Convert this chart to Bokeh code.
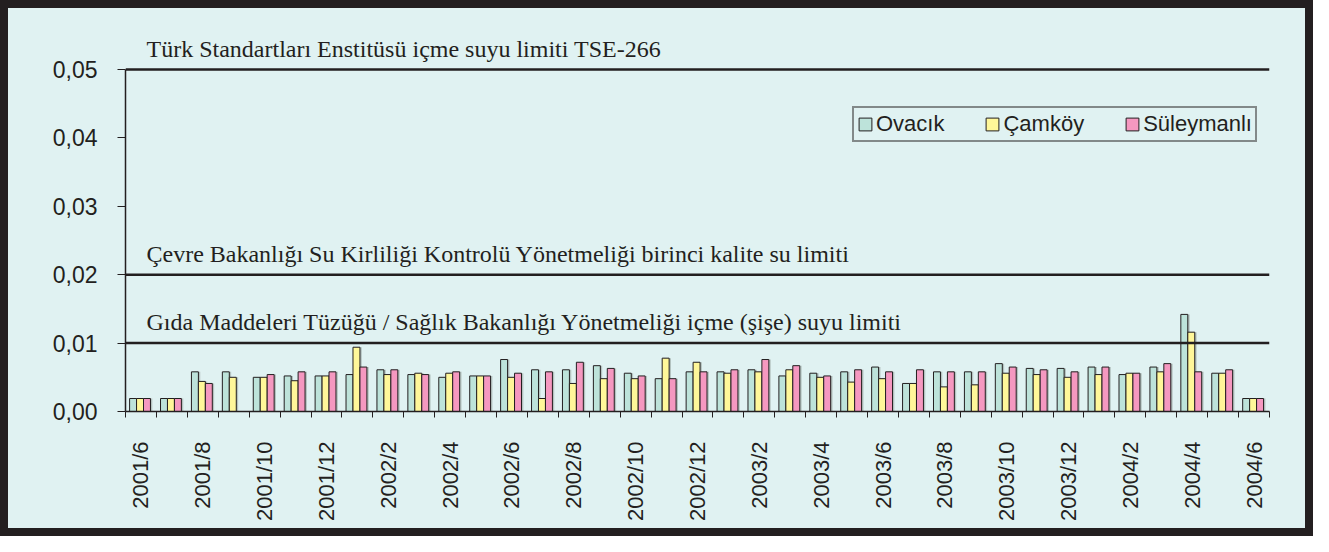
import numpy as np
from bokeh.plotting import figure
from bokeh.models import (Range1d, FixedTicker, CustomJSTickFormatter, Span,
                          Legend, LegendItem)
from bokeh.core.properties import value
from bokeh.embed import file_html
from bokeh.resources import INLINE

nan = float("nan")

months = ["2001/6", "2001/7", "2001/8", "2001/9", "2001/10", "2001/11", "2001/12",
          "2002/1", "2002/2", "2002/3", "2002/4", "2002/5", "2002/6", "2002/7",
          "2002/8", "2002/9", "2002/10", "2002/11", "2002/12",
          "2003/1", "2003/2", "2003/3", "2003/4", "2003/5", "2003/6", "2003/7",
          "2003/8", "2003/9", "2003/10", "2003/11", "2003/12",
          "2004/1", "2004/2", "2004/3", "2004/4", "2004/5", "2004/6"]

ovacik = [0.0019, 0.0019, 0.0058, 0.0058, 0.0050, 0.0052, 0.0052, 0.0054, 0.0061,
          0.0054, 0.0050, 0.0052, 0.0076, 0.0061, 0.0061, 0.0067, 0.0056, 0.0048,
          0.0058, 0.0058, 0.0061, 0.0052, 0.0056, 0.0058, 0.0065, 0.0041, 0.0058,
          0.0058, 0.0070, 0.0063, 0.0063, 0.0065, 0.0054, 0.0065, 0.0142, 0.0056,
          0.0019]
camkoy = [0.0019, 0.0019, 0.0044, 0.0050, 0.0050, 0.0045, 0.0052, 0.0094, 0.0054,
          0.0056, 0.0056, 0.0052, 0.0050, 0.0019, 0.0041, 0.0048, 0.0048, 0.0078,
          0.0072, 0.0056, 0.0058, 0.0061, 0.0050, 0.0043, 0.0048, 0.0041, 0.0036,
          0.0039, 0.0056, 0.0054, 0.0050, 0.0054, 0.0056, 0.0058, 0.0116, 0.0056,
          0.0019]
suleymanli = [0.0019, 0.0019, 0.0041, nan, 0.0054, 0.0058, 0.0058, 0.0065, 0.0061,
              0.0054, 0.0058, 0.0052, 0.0056, 0.0058, 0.0072, 0.0063, 0.0052, 0.0048,
              0.0058, 0.0061, 0.0076, 0.0067, 0.0052, 0.0061, 0.0058, 0.0061, 0.0058,
              0.0058, 0.0065, 0.0061, 0.0058, 0.0065, 0.0056, 0.0070, 0.0058, 0.0061,
              0.0019]

series_names = ["Ovacık", "Çamköy", "Süleymanlı"]
series_values = [ovacik, camkoy, suleymanli]
series_colors = ["#BDE3DA", "#FFF799", "#F598C0"]

y_ticks = [0.0, 0.01, 0.02, 0.03, 0.04, 0.05]
limits = [0.05, 0.02, 0.01]
limit_labels = ["Türk Standartları Enstitüsü içme suyu limiti TSE-266",
                "Çevre Bakanlığı Su Kirliliği Kontrolü Yönetmeliği birinci kalite su limiti",
                "Gıda Maddeleri Tüzüğü / Sağlık Bakanlığı Yönetmeliği içme (şişe) suyu limiti"]

DARK = "#231F20"
BG = "#E0F2F2"
W, H = 1313, 536

n = len(months)
centers = np.arange(n) + 0.5

p = figure(width=W, height=H, output_backend="svg", toolbar_location=None,
           x_range=Range1d(0, n), y_range=Range1d(0, 0.0563))
p.min_border_left = 125
p.min_border_right = 44
p.min_border_top = 26
p.min_border_bottom = 125
p.background_fill_color = BG
p.border_fill_color = BG
p.border_fill_alpha = 0
p.outline_line_color = None
p.grid.visible = False
# picture frame: light background with a dark 8px border drawn on the host element
p.styles = {"background-color": BG, "box-shadow": "inset 0 0 0 8px " + DARK}

# limit lines
for lim in limits:
    p.add_layout(Span(location=lim, dimension="width", line_color=DARK, line_width=2.5))

# bars
bw = 0.225
renderers = []
for i, (vals, color) in enumerate(zip(series_values, series_colors)):
    off = (i - 1) * bw - 0.03
    p.vbar(x=centers + off + 0.06, top=vals, width=bw,
           fill_color="#8A9590", fill_alpha=0.5, line_color=None)
    r = p.vbar(x=centers + off, top=vals, width=bw,
               fill_color=color, line_color=DARK, line_width=1)
    renderers.append(r)

# limit texts
p.text(x=[0] * len(limits), y=limits, text=limit_labels, x_offset=21, y_offset=-21,
       text_font=value("Liberation Serif"), text_font_size="24px", text_color=DARK,
       text_baseline="alphabetic", text_align="left")

# axes
xa = p.xaxis[0]
xa.ticker = FixedTicker(ticks=list(centers[::2]), minor_ticks=list(np.arange(n + 1)))
xa.major_label_overrides = {float(c): m for c, m in zip(centers[::2], months[::2])}
xa.major_label_orientation = np.pi / 2
xa.major_tick_out = 0
xa.major_tick_in = 0
xa.minor_tick_out = 6
xa.minor_tick_in = 0
xa.minor_tick_line_color = DARK
xa.axis_line_color = DARK
xa.axis_line_width = 1.5
xa.major_label_standoff = 24
xa.major_label_text_font = "Liberation Sans"
xa.major_label_text_font_size = "22px"
xa.major_label_text_color = DARK

ya = p.yaxis[0]
ya.ticker = FixedTicker(ticks=y_ticks)
ya.bounds = (0, 0.05)
ya.formatter = CustomJSTickFormatter(code="return tick.toFixed(2).replace('.', ',');")
ya.major_tick_out = 8
ya.major_tick_in = 0
ya.minor_tick_line_color = None
ya.major_tick_line_color = DARK
ya.axis_line_color = DARK
ya.axis_line_width = 1.5
ya.major_label_standoff = 20
ya.major_label_text_font = "Liberation Sans"
ya.major_label_text_font_size = "23px"
ya.major_label_text_color = DARK

legend = Legend(items=[LegendItem(label=nm, renderers=[r]) for nm, r in zip(series_names, renderers)],
                orientation="horizontal", location=(727, 269))
legend.label_text_font = "Liberation Sans"
legend.label_text_font_size = "22px"
legend.label_text_color = DARK
legend.glyph_width = 16
legend.glyph_height = 16
legend.label_standoff = 3
legend.spacing = 40
legend.padding = 3
legend.margin = 0
legend.border_line_color = DARK
legend.border_line_width = 2
legend.background_fill_color = BG
legend.background_fill_alpha = 1
p.add_layout(legend)

open("out.html", "w").write(file_html(p, INLINE))
